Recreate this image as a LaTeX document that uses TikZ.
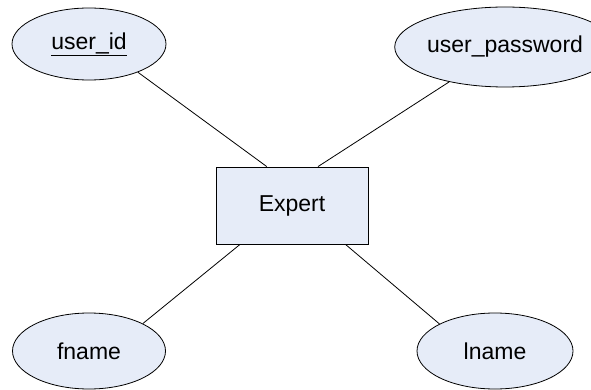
\documentclass[tikz,border=0pt]{standalone}
\usepackage{fontspec}
\setmainfont{Liberation Sans}
\usepackage{tikz}
\usetikzlibrary{shapes,calc}
\definecolor{attrfill}{RGB}{230,236,248}
\tikzstyle{line}=[draw,line width=0.8pt]
\tikzstyle{tattr} = [ellipse, draw, line width=0.8pt, fill=attrfill, inner sep=0pt]
\tikzstyle{tentity} = [rectangle, draw, line width=0.8pt, fill=attrfill, inner sep=0pt, minimum width=152pt, minimum height=77pt]

\begin{document}
\begin{tikzpicture}[x=1pt,y=-1pt,font=\fontsize{23}{27}\selectfont]
\useasboundingbox (0,0) rectangle (591,390);
\node [tentity] (ex) at (292,205.5) {Expert};
\node [tattr,minimum width=154pt,minimum height=72pt] (uid) at (89,44) {\underline{user\_id}};
\node [tattr,minimum width=172pt,minimum height=80pt] (upw) at (505,47) {user\_password};
\node [tattr,minimum width=153pt,minimum height=76pt] (fn) at (89,351) {fname};
\node [tattr,minimum width=156pt,minimum height=76pt] (ln) at (495,351) {lname};

\draw[line] (uid.-30) -- ($(ex.north west)!0.335!(ex.north east)$);
\draw[line] (upw.-148) -- ($(ex.north west)!0.67!(ex.north east)$);
\draw[line] (fn.27) -- ($(ex.south west)!0.16!(ex.south east)$);
\draw[line] (ln.154) -- ($(ex.south west)!0.85!(ex.south east)$);
\end{tikzpicture}
\end{document}
